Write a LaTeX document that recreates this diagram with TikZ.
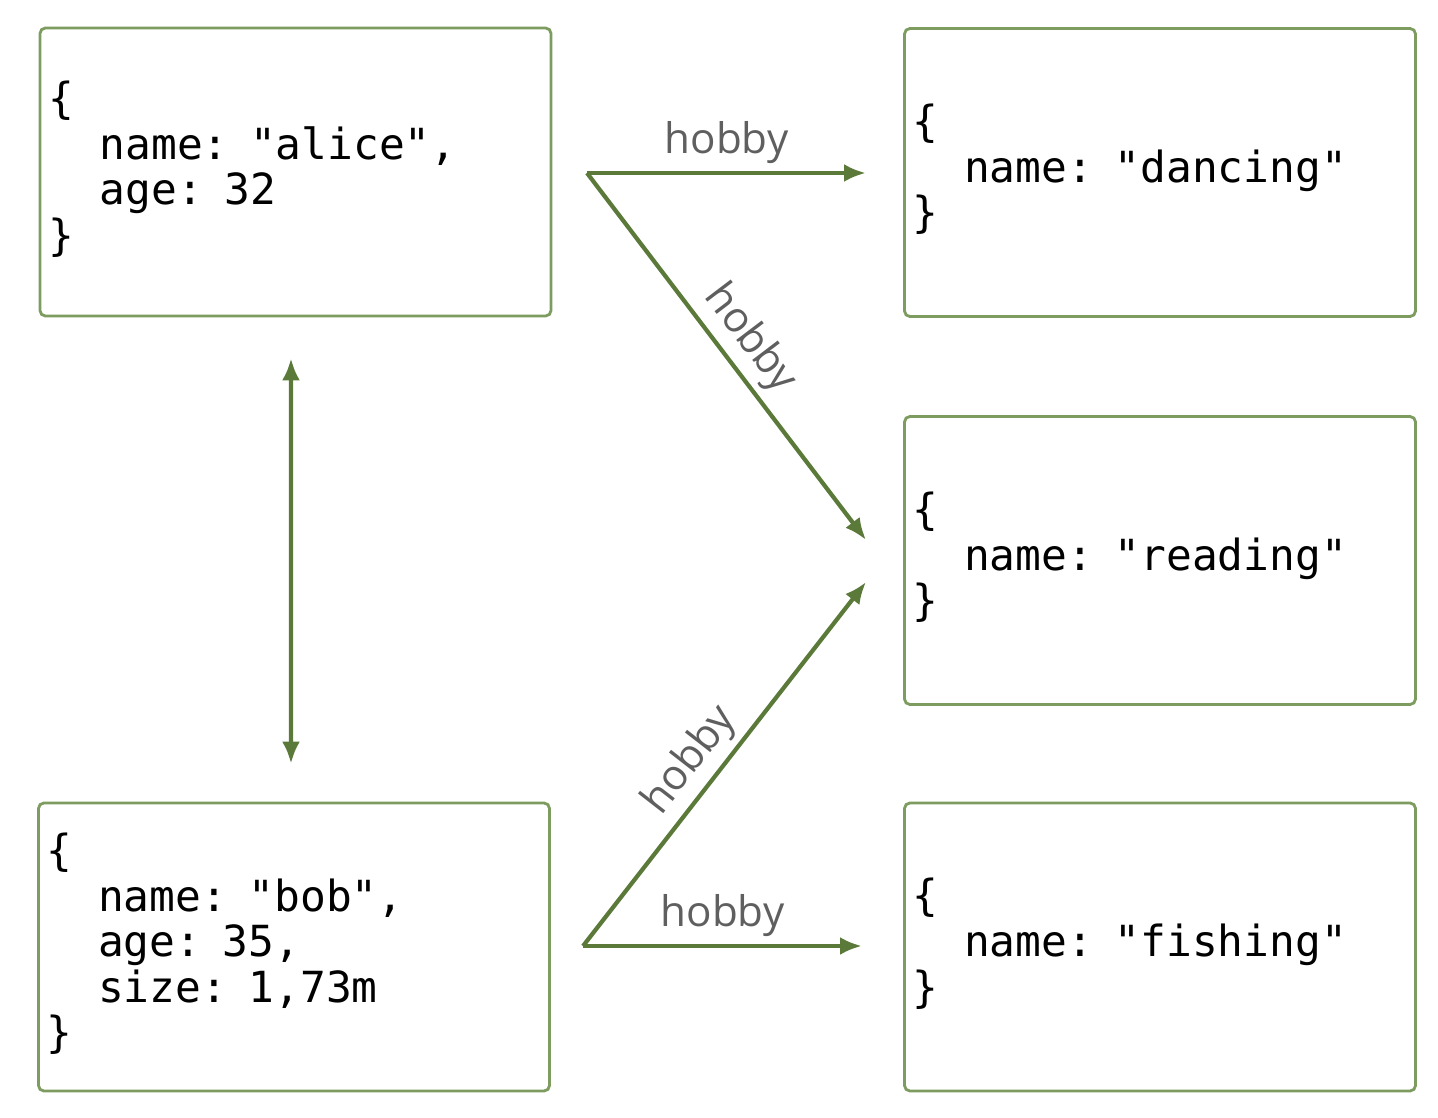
\documentclass[tikz,border=0pt]{standalone}
\usepackage{fontspec}
\setmonofont{DejaVu Sans Mono}
\newfontfamily\hobbyfont{Open Sans}
\usepackage{tikz}
\usetikzlibrary{arrows.meta}
\definecolor{linkgreen}{HTML}{5B7A3A}
\definecolor{boxgreen}{HTML}{7E9C60}
\definecolor{labelgray}{HTML}{5F5F5F}
\newcommand{\jind}{\phantom{xx}}
\tikzset{
  docbox/.style={draw=boxgreen,line width=1.6pt,rounded corners=3pt,
    minimum width=10.22cm,minimum height=5.76cm,text width=9.9cm,
    align=left,inner xsep=0.16cm,
    font=\ttfamily\fontsize{24.4}{25}\selectfont},
  hobbylink/.style={-{Latex[length=0.44cm,width=0.36cm]},draw=linkgreen,line width=2.4pt},
  hobbylabel/.style={font=\hobbyfont\fontsize{24}{28}\selectfont,text=labelgray}
}
\begin{document}
\begin{tikzpicture}[x=0.02cm,y=-0.02cm]
  \useasboundingbox (0,0) rectangle (1438,1118);
  \node[docbox] (alice) at (295.5,172)
    {\begin{tabular}{@{}l@{}}
      \{\\
      \jind name: "alice",\\
      \jind age: 32\\
      \}
    \end{tabular}};
  \node[docbox] (bob) at (294,947)
    {\begin{tabular}{@{}l@{}}
      \{\\
      \jind name: "bob",\\
      \jind age: 35,\\
      \jind size: 1,73m\\
      \}
    \end{tabular}};
  \node[docbox] (dancing) at (1160,172.5)
    {\begin{tabular}{@{}l@{}}
      \{\\
      \jind name: "dancing"\\
      \}
    \end{tabular}};
  \node[docbox] (reading) at (1160,560.5)
    {\begin{tabular}{@{}l@{}}
      \{\\
      \jind name: "reading"\\
      \}
    \end{tabular}};
  \node[docbox] (fishing) at (1160,947)
    {\begin{tabular}{@{}l@{}}
      \{\\
      \jind name: "fishing"\\
      \}
    \end{tabular}};
  \coordinate (alicehub) at (587,173);
  \coordinate (bobhub) at (583,946);
  \coordinate (dancingin) at (866,173);
  \coordinate (readingtop) at (866,540);
  \coordinate (readingbot) at (866,582);
  \coordinate (fishingin) at (862,946);
  \draw [hobbylink] (alicehub) -- node[hobbylabel,above=1pt]{hobby} (dancingin);
  \draw [hobbylink] (alicehub) -- node[hobbylabel,above,sloped]{hobby} (readingtop);
  \draw [hobbylink] (bobhub) -- node[hobbylabel,above,sloped,pos=0.46]{hobby} (readingbot);
  \draw [hobbylink] (bobhub) -- node[hobbylabel,above=1pt]{hobby} (fishingin);
  \draw [hobbylink,{Latex[length=0.44cm,width=0.36cm]}-{Latex[length=0.44cm,width=0.36cm]},
    shorten <=0.82cm,shorten >=0.76cm]
    ([xshift=-0.09cm]alice.south) -- ([xshift=-0.06cm]bob.north);
\end{tikzpicture}
\end{document}
